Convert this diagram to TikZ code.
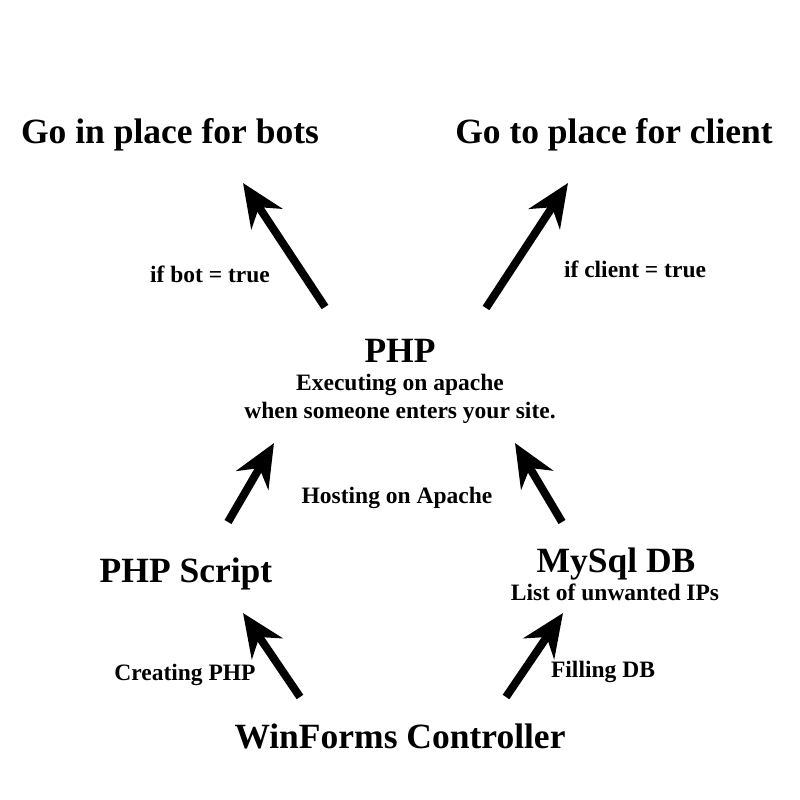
\documentclass[tikz,border=0pt]{standalone}
\usepackage{fontspec}
\setmainfont{Liberation Serif}
\usepackage{tikz}
\usetikzlibrary{arrows.meta}
\tikzstyle{arrow}  = [line width=8pt, -{Stealth[length=43pt, width=37pt, inset=14pt]}]
\tikzstyle{title}  = [font=\fontsize{35.5}{40}\selectfont\bfseries, anchor=base, inner sep=0pt]
\tikzstyle{label}  = [font=\fontsize{23.5}{28}\selectfont\bfseries, anchor=base, inner sep=0pt]
\tikzset{every node/.style={align=center}}
\begin{document}
\begin{tikzpicture}[x=1pt, y=-1pt]
    \useasboundingbox [fill=white] (0,0) rectangle (800,800);

    \node (bots)     at (170, 143) [title] {Go in place for bots};
    \node (client)   at (614, 143) [title] {Go to place for client};
    \node (ifbot)    at (210, 282) [label] {if bot = true};
    \node (ifclient) at (635, 277) [label] {if client = true};
    \node (php)      at (400, 362) [title] {PHP};
    \node (phpnote)  at (400, 418) [label] {Executing on apache\\when someone enters your site.};
    \node (hosting)  at (397, 503) [label] {Hosting on Apache};
    \node (script)   at (186, 582) [title] {PHP Script};
    \node (mysql)    at (616, 572) [title] {MySql DB};
    \node (mysqlnote) at (615, 600) [label] {List of unwanted IPs};
    \node (creating) at (185, 680) [label] {Creating PHP};
    \node (filling)  at (603, 677) [label] {Filling DB};
    \node (ctrl)     at (400, 748) [title] {WinForms Controller};

    \draw [arrow] ([shift={(-75,-55)}]php.base)  -- ([shift={(73,40)}]bots.base);
    \draw [arrow] ([shift={(86,-54)}]php.base)   -- ([shift={(-46,40)}]client.base);
    \draw [arrow] ([shift={(42,-60)}]script.base) -- ([shift={(-126,81)}]php.base);
    \draw [arrow] ([shift={(-54,-50)}]mysql.base) -- ([shift={(115,81)}]php.base);
    \draw [arrow] ([shift={(-100,-51)}]ctrl.base) -- ([shift={(57,31)}]script.base);
    \draw [arrow] ([shift={(106,-51)}]ctrl.base)  -- ([shift={(-53,41)}]mysql.base);
\end{tikzpicture}
\end{document}
